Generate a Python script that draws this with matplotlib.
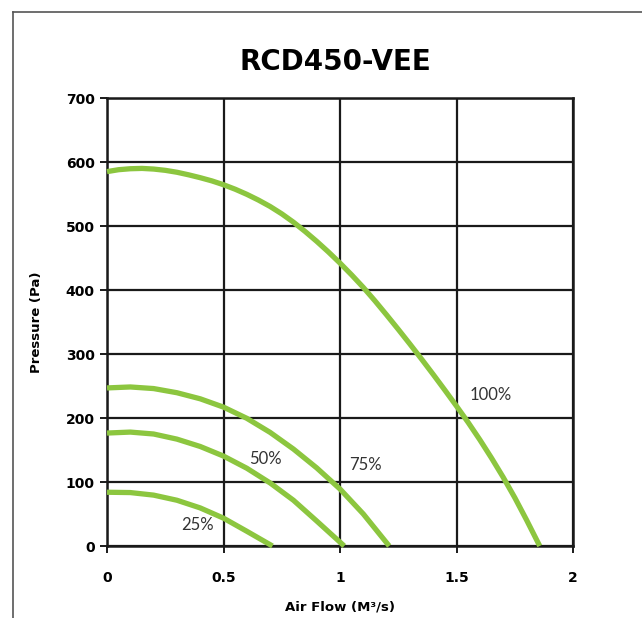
import matplotlib
matplotlib.use("Agg")
import matplotlib.pyplot as plt
from matplotlib.lines import Line2D

plt.rcParams['font.family'] = ['DejaVu Sans']

# fan curves (air flow m3/s, pressure Pa)
flow_100 = [0, 0.05, 0.1, 0.15, 0.2, 0.25, 0.3, 0.35, 0.4, 0.45, 0.5, 0.55, 0.6, 0.65, 0.7,
            0.75, 0.8, 0.85, 0.9, 0.95, 1.0, 1.05, 1.1, 1.15, 1.2, 1.25, 1.3, 1.35, 1.4,
            1.45, 1.5, 1.55, 1.6, 1.65, 1.7, 1.75, 1.8, 1.857]
pres_100 = [585, 588, 589.5, 590, 589, 587, 584, 580, 575.5, 570.5, 564.5, 557.5, 549.5, 540.5, 530.5,
            519, 506, 491.5, 476, 459.5, 442, 423.5, 404, 383, 361, 338.5, 315.5, 292, 268,
            243.5, 218.5, 193, 166, 137.5, 107.5, 75.5, 41, 0]

flow_75 = [0, 0.1, 0.2, 0.3, 0.4, 0.5, 0.6, 0.7, 0.8, 0.9, 1.0, 1.1, 1.211]
pres_75 = [247, 248.5, 246, 239.5, 230, 217, 199.5, 177.5, 151.5, 122, 89, 50, 0]

flow_50 = [0, 0.1, 0.2, 0.3, 0.4, 0.5, 0.6, 0.7, 0.8, 0.9, 1.018]
pres_50 = [176.5, 178, 175, 167, 155.5, 140.5, 121.5, 98.5, 71.5, 39, 0]

flow_25 = [0, 0.1, 0.2, 0.3, 0.4, 0.5, 0.6, 0.71]
pres_25 = [84, 83.5, 79.5, 71.5, 59.5, 43.5, 23, 0]

curve_labels = ['100%', '75%', '50%', '25%']
label_pos = [(1.645, 236), (1.107, 126), (0.68, 136), (0.39, 33)]

x_ticks = [0, 0.5, 1, 1.5, 2]
x_ticklabels = ['0', '0.5', '1', '1.5', '2']
y_ticks = [0, 100, 200, 300, 400, 500, 600, 700]

green = '#8cc63f'
ink = '#1a1a1a'

fig = plt.figure(figsize=(6.42, 6.18), dpi=100)
ax = fig.add_axes([0.1667, 0.1165, 0.7259, 0.7249])

for fx, py in [(flow_100, pres_100), (flow_75, pres_75), (flow_50, pres_50), (flow_25, pres_25)]:
    ax.plot(fx, py, color=green, lw=3.8, solid_capstyle='butt', solid_joinstyle='round',
            zorder=3, clip_on=False)

for txt, (lx, ly) in zip(curve_labels, label_pos):
    ax.text(lx, ly, txt, ha='center', va='center', fontsize=12, color='#333333',
            family=['Lato', 'DejaVu Sans'], zorder=4)

ax.set_xlim(0, 2)
ax.set_ylim(0, 700)
ax.set_xticks(x_ticks)
ax.set_xticklabels(x_ticklabels)
ax.set_yticks(y_ticks)
ax.grid(True, color=ink, lw=1.6)
ax.set_axisbelow(True)
for s in ax.spines.values():
    s.set_color(ink)
    s.set_linewidth(1.8)
ax.tick_params(direction='out', length=5, width=1.4, color=ink, labelsize=10, pad=4)
for lab in ax.get_xticklabels() + ax.get_yticklabels():
    lab.set_fontweight('bold')
ax.tick_params(axis='x', pad=13)

ax.set_xlabel('Air Flow (M\u00b3/s)', fontsize=9.5, fontweight='bold', labelpad=11)
ax.set_ylabel('Pressure (Pa)', fontsize=9.5, fontweight='bold', labelpad=16)
fig.text(335 / 642, 1 - 62 / 618, 'RCD450-VEE', ha='center', va='center', fontsize=20, fontweight='bold')

# outer frame, top and left only
fig.add_artist(Line2D([13 / 642, 1], [1 - 12 / 618, 1 - 12 / 618], color='#555555', lw=1.2))
fig.add_artist(Line2D([13 / 642, 13 / 642], [0, 1 - 12 / 618], color='#555555', lw=1.2))

fig.savefig('out.png', dpi=100, facecolor='white')
